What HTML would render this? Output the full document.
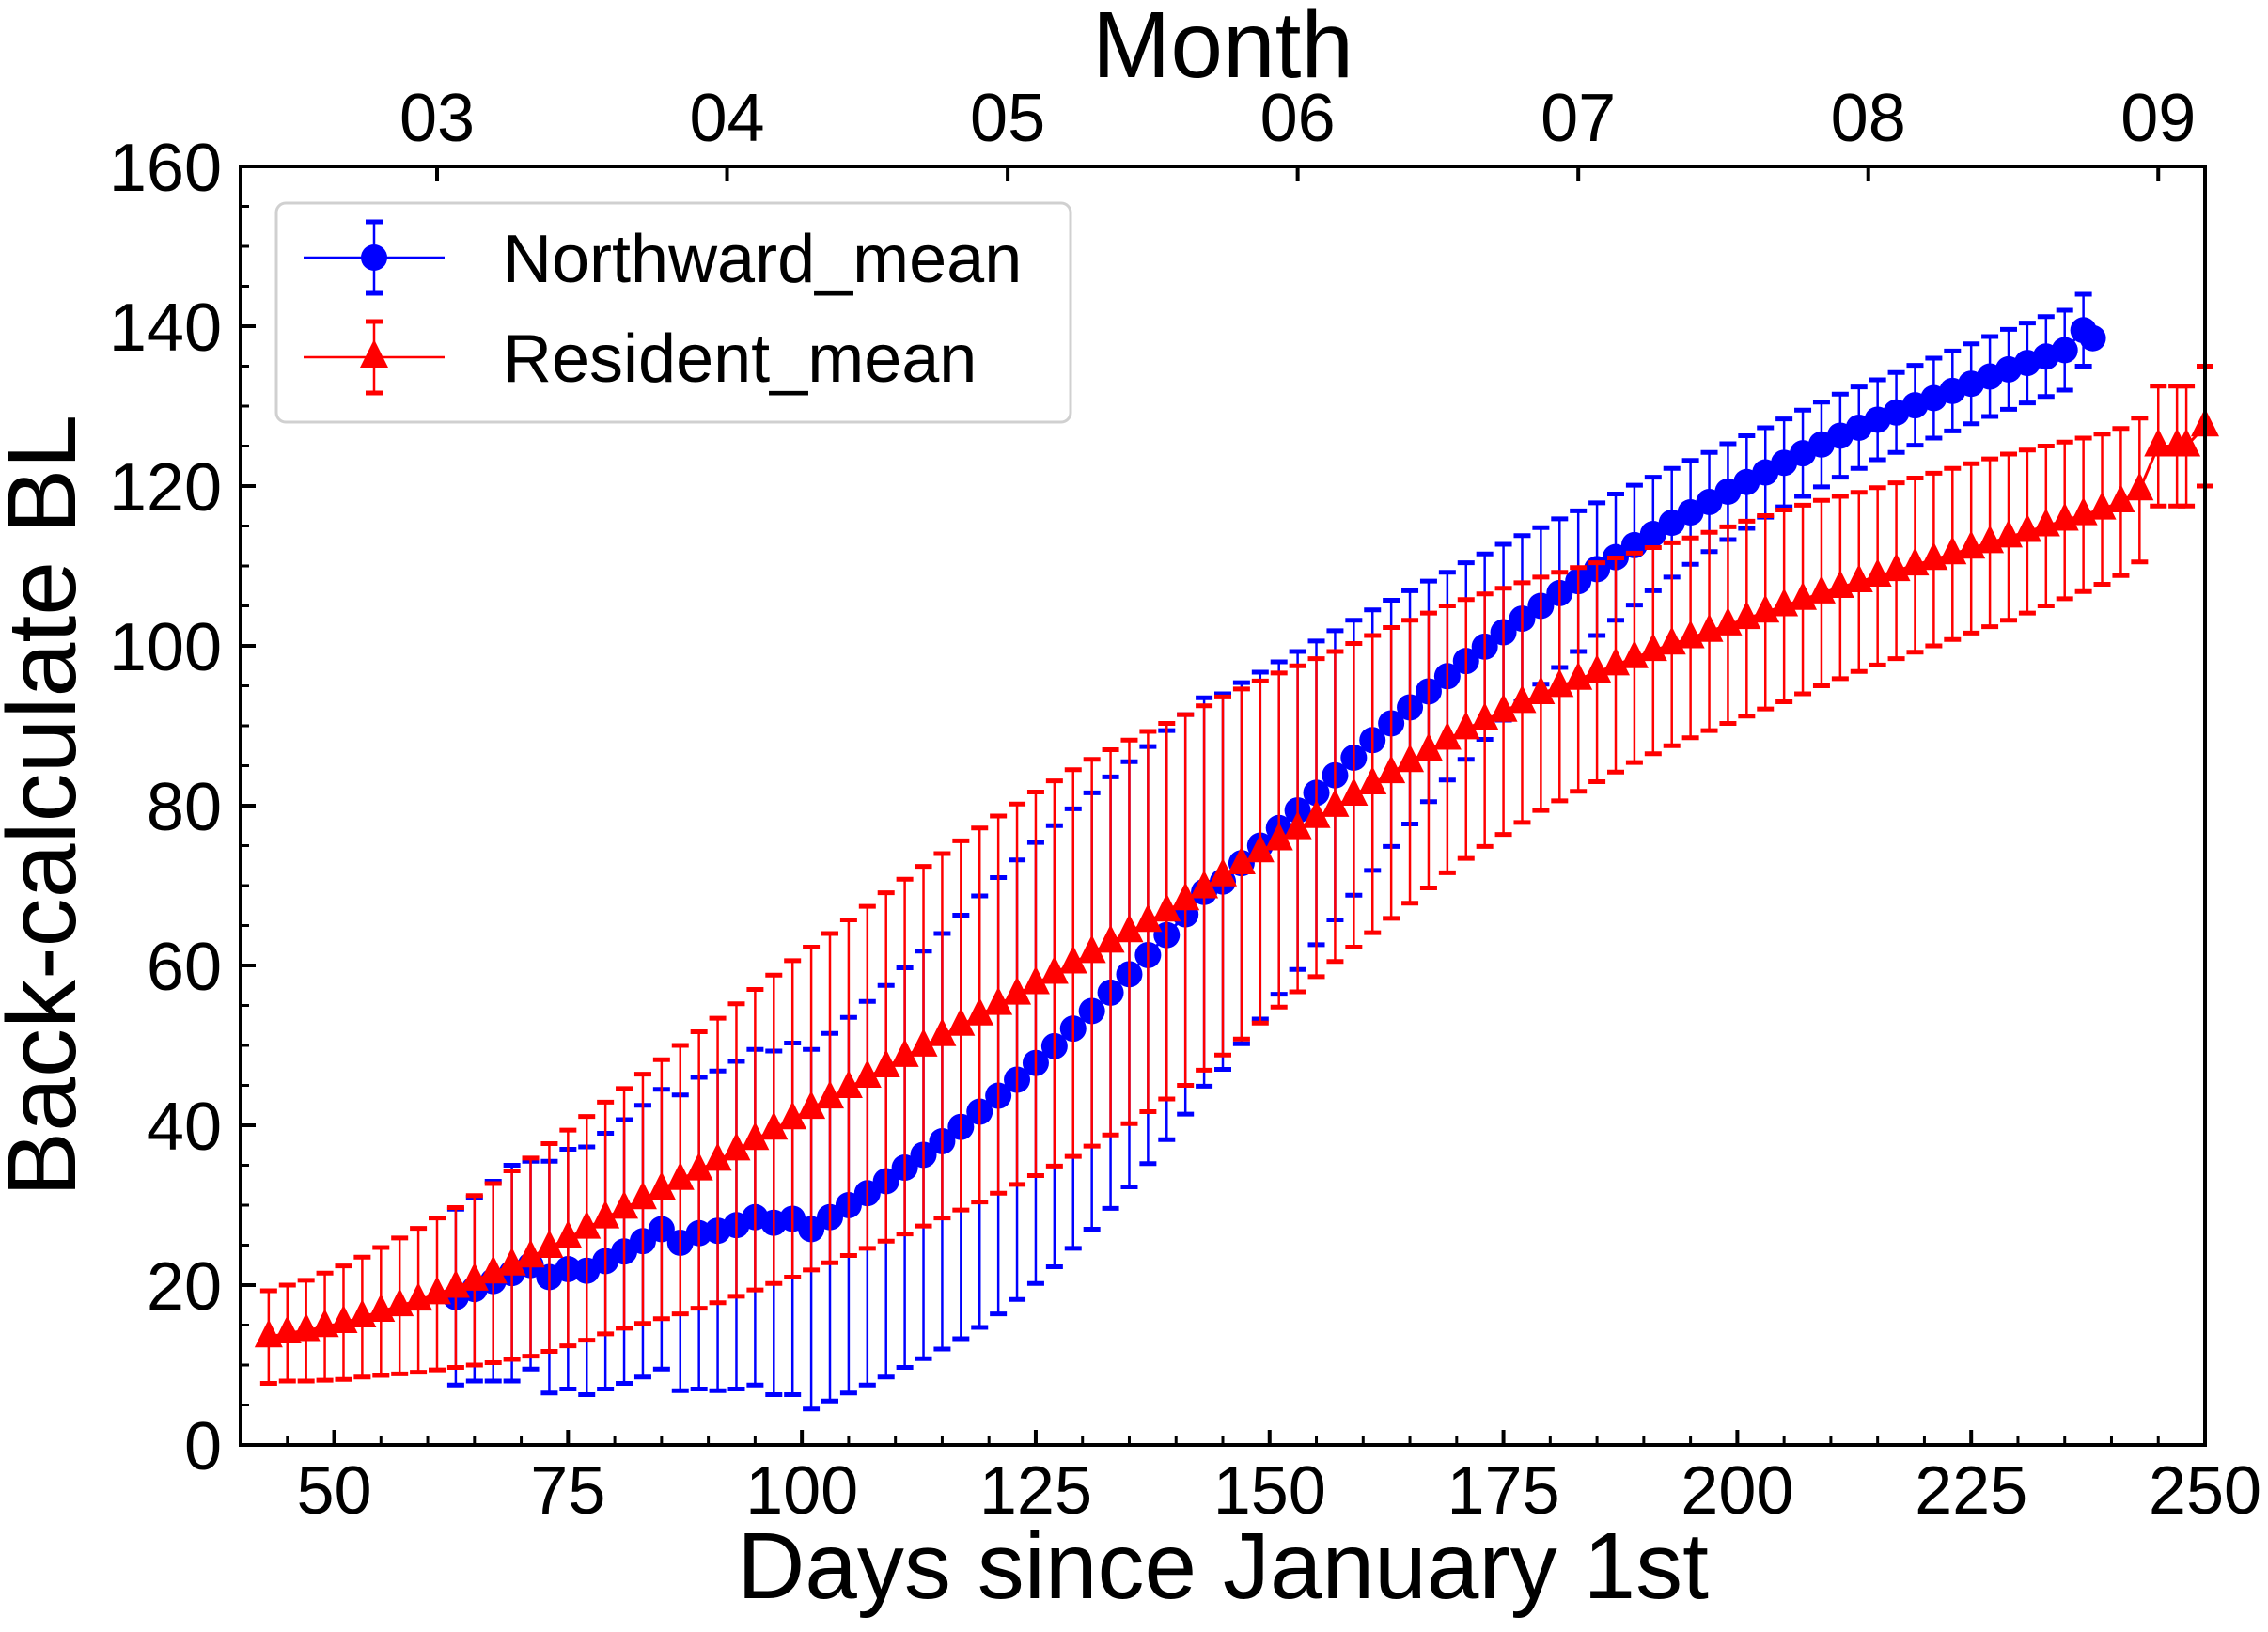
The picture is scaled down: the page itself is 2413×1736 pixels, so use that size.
<!DOCTYPE html>
<html><head><meta charset="utf-8">
<style>
html,body{margin:0;padding:0;background:#fff;}
svg{display:block;font-family:"Liberation Sans",Arial,sans-serif;}
</style></head>
<body>
<svg id="chart" width="2413" height="1736" viewBox="0 0 2413 1736" xmlns="http://www.w3.org/2000/svg">
<rect x="0" y="0" width="2413" height="1736" fill="#fff"/>
<g id="series"></g>
<g id="axes"></g>
</svg>
<script>
const xTicks = [50, 75, 100, 125, 150, 175, 200, 225, 250];
const yTicks = [0, 20, 40, 60, 80, 100, 120, 140, 160];
const monthLabels = ["03", "04", "05", "06", "07", "08", "09"];
const monthDays = [61, 92, 122, 153, 183, 214, 245];

const resDays = [43,45,47,49,51,53,55,57,59,61,63,65,67,69,71,73,75,77,79,81,83,85,87,89,91,93,95,97,99,101,103,105,107,109,111,113,115,117,119,121,123,125,127,129,131,133,135,137,139,141,143,145,147,149,151,153,155,157,159,161,163,165,167,169,171,173,175,177,179,181,183,185,187,189,191,193,195,197,199,201,203,205,207,209,211,213,215,217,219,221,223,225,227,229,231,233,235,237,239,241,243,245,247,248,250];
const resMean = [13.5,14,14.3,14.8,15.3,16,16.7,17.4,18.1,18.9,19.7,20.6,21.5,22.5,23.5,24.7,25.9,27.1,28.4,29.6,30.8,32,33.2,34.4,35.6,36.9,38.2,39.5,40.8,42.1,43.4,44.7,46,47.3,48.6,49.9,51.2,52.5,53.8,55.1,56.4,57.7,59,60.3,61.6,62.9,64.2,65.5,66.8,68.2,69.7,71.2,72.7,74.2,75.7,77.1,78.5,79.9,81.3,82.7,84.1,85.5,86.9,88.3,89.6,90.7,91.8,92.9,94,94.9,95.8,96.7,97.6,98.5,99.4,100.2,101,101.8,102.6,103.4,104.2,105,105.8,106.6,107.3,108,108.7,109.4,110.1,110.8,111.5,112.2,112.9,113.6,114.3,115,115.7,116.4,117.1,118,119.5,125,125,125,127.5];
const resSd = [5.8,6,6.3,6.7,7.1,7.5,8,8.5,9,9.5,10,10.6,11.2,11.8,12.4,13,13.5,14,14.5,15,15.6,16.2,16.8,17.3,17.8,18.3,18.8,19.3,19.8,20.2,20.6,21,21.4,21.8,22.2,22.5,22.8,23.1,23.4,23.6,23.8,24,24.1,24.2,24.2,24.1,24,23.8,23.5,23.2,22.8,22.4,21.9,21.4,20.9,20.4,19.9,19.4,19,18.6,18.2,17.7,17.2,16.7,16.2,15.8,15.4,15,14.6,14.3,14,13.7,13.4,13.1,12.9,12.7,12.5,12.4,12.3,12.2,12.1,12,11.8,11.6,11.4,11.2,11.1,11,10.9,10.8,10.7,10.6,10.5,10.4,10.2,10,9.8,9.6,9.4,9.2,9,7.5,7.5,7.5,7.5];

const norDays = [63,65,67,69,71,73,75,77,79,81,83,85,87,89,91,93,95,97,99,101,103,105,107,109,111,113,115,117,119,121,123,125,127,129,131,133,135,137,139,141,143,145,147,149,151,153,155,157,159,161,163,165,167,169,171,173,175,177,179,181,183,185,187,189,191,193,195,197,199,201,203,205,207,209,211,213,215,217,219,221,223,225,227,229,231,233,235,237,238];
const norMean = [18.5,19.5,20.5,21.5,22.5,21,22,21.8,23,24.2,25.5,27,25.3,26.5,26.8,27.5,28.5,27.8,28.3,27,28.5,30,31.5,33,34.7,36.3,38,39.8,41.7,43.7,45.7,47.8,49.9,52.1,54.3,56.6,58.9,61.3,63.8,66.4,69.2,70.5,72.8,75,77.2,79.4,81.6,83.8,86,88.2,90.3,92.3,94.3,96.2,98.1,99.9,101.7,103.4,105,106.6,108.1,109.6,111.1,112.6,114,115.4,116.7,118,119.3,120.5,121.7,122.9,124.1,125.2,126.3,127.3,128.3,129.2,130.1,131,131.9,132.8,133.7,134.6,135.4,136.2,137,139.5,138.5];
const norSd = [11,11.5,12.5,13.5,13,14.5,15,15.5,16,16.5,17,17.5,18.5,19.5,20,20.5,21,21.5,22,22.5,23,23.5,24,24.5,25,25.5,26,26.5,27,27.3,27.5,27.6,27.6,27.5,27.3,27,26.6,26.1,25.6,25,24.3,23.5,22.6,21.7,20.8,19.9,19,18.1,17.2,16.3,15.4,14.6,13.8,13,12.3,11.6,11,10.4,9.8,9.3,8.8,8.3,7.9,7.5,7.1,6.8,6.5,6.2,6,5.8,5.6,5.5,5.4,5.3,5.2,5.1,5,5,5,5,5,5,5,5,5,5,5,4.5,0];

const NS = "http://www.w3.org/2000/svg";
const L = 256, R = 2346, T = 177, B = 1537;
const X0 = 40, X1 = 250, Y0 = 0, Y1 = 160;
function xs(d){ return L + (d - X0) / (X1 - X0) * (R - L); }
function ys(v){ return B - (v - Y0) / (Y1 - Y0) * (B - T); }
function mk(tag, attrs, parent){
  const e = document.createElementNS(NS, tag);
  for (const k in attrs) e.setAttribute(k, attrs[k]);
  parent.appendChild(e);
  return e;
}
const series = document.getElementById('series');
const axes = document.getElementById('axes');

function drawSeries(days, mean, sd, color, shape, name){
  const g = mk('g', {}, series);
  
  
  let d = '';
  days.forEach((x, i) => { d += (i ? 'L' : 'M') + xs(x).toFixed(1) + ' ' + ys(mean[i]).toFixed(1); });
  const ln = mk('path', {d: d, fill: 'none', stroke: color, 'stroke-width': 3}, g);
  
  
  days.forEach((x, i) => {
    if (sd[i] <= 0) return;
    const cx = xs(x), yt = ys(mean[i] + sd[i]), yb = ys(mean[i] - sd[i]);
    const eb = mk('path', {d: `M${cx} ${yt}L${cx} ${yb}`, stroke: color, 'stroke-width': 2.5, fill: 'none'}, g);
    
    
    const cp = mk('path', {d: `M${cx-9} ${yt}L${cx+9} ${yt}M${cx-9} ${yb}L${cx+9} ${yb}`, stroke: color, 'stroke-width': 5, fill: 'none'}, g);
    
    
  });
  days.forEach((x, i) => {
    const cx = xs(x), cy = ys(mean[i]);
    let m;
    if (shape === 'circle') {
      m = mk('circle', {cx: cx, cy: cy, r: 14, fill: color}, g);
    } else {
      m = mk('path', {d: `M${cx} ${cy-19}L${cx+15} ${cy+11}L${cx-15} ${cy+11}Z`, fill: color}, g);
    }
    
    
  });
}
drawSeries(norDays, norMean, norSd, '#0000ff', 'circle', 'northward-mean');
drawSeries(resDays, resMean, resSd, '#ff0000', 'triangle', 'resident-mean');

const frame = mk('rect', {x: L, y: T, width: R - L, height: B - T, fill: 'none', stroke: '#000', 'stroke-width': 4}, axes);



for (let d = 45; d <= 250; d += 5) {
  const major = xTicks.includes(d);
  const t = mk('line', {x1: xs(d), x2: xs(d), y1: B, y2: B - (major ? 16 : 9), stroke: '#000', 'stroke-width': major ? 4 : 3}, axes);
  
  
}
xTicks.forEach(v => {
  const t = mk('text', {x: xs(v), y: 1610, 'font-size': 72, 'text-anchor': 'middle', fill: '#000'}, axes);
  t.textContent = v;
  
  
});
for (let v = 0; v <= 160; v += 5) {
  const major = yTicks.includes(v);
  const t = mk('line', {x1: L, x2: L + (major ? 16 : 9), y1: ys(v), y2: ys(v), stroke: '#000', 'stroke-width': major ? 4 : 3}, axes);
  
  
}
yTicks.forEach(v => {
  const t = mk('text', {x: 236, y: ys(v) + 26, 'font-size': 72, 'text-anchor': 'end', fill: '#000'}, axes);
  t.textContent = v;
  
  
});
monthDays.forEach((d, i) => {
  const t = mk('line', {x1: xs(d), x2: xs(d), y1: T, y2: T + 16, stroke: '#000', 'stroke-width': 4}, axes);
  
  
  const lb = mk('text', {x: xs(d), y: 150, 'font-size': 72, 'text-anchor': 'middle', fill: '#000'}, axes);
  lb.textContent = monthLabels[i];
  
  
});
let tt = mk('text', {x: 1301, y: 82, 'font-size': 100, 'text-anchor': 'middle', fill: '#000'}, axes);
tt.textContent = 'Month';


tt = mk('text', {x: 1301, y: 1700, 'font-size': 100, 'text-anchor': 'middle', fill: '#000'}, axes);
tt.textContent = 'Days since January 1st';


tt = mk('text', {x: 0, y: 0, 'font-size': 104, 'text-anchor': 'middle', fill: '#000', transform: 'translate(80,857) rotate(-90)'}, axes);
tt.textContent = 'Back-calculate BL';



const lg = mk('g', {}, axes);


const box = mk('rect', {x: 294, y: 216, width: 845, height: 233, rx: 10, fill: '#fff', 'fill-opacity': 0.85, stroke: '#d0d0d0', 'stroke-width': 3}, lg);


const entries = [['Northward_mean', '#0000ff', 'circle', 274], ['Resident_mean', '#ff0000', 'triangle', 380]];
entries.forEach(([label, color, shape, y]) => {
  const e = mk('g', {}, lg);
  
  
  const cx = 398;
  mk('path', {d: `M323 ${y}L473 ${y}M${cx} ${y-38}L${cx} ${y+38}`, stroke: color, 'stroke-width': 2.5, fill: 'none'}, e);
  mk('path', {d: `M${cx-9} ${y-38}L${cx+9} ${y-38}M${cx-9} ${y+38}L${cx+9} ${y+38}`, stroke: color, 'stroke-width': 5, fill: 'none'}, e);
  if (shape === 'circle') mk('circle', {cx: cx, cy: y, r: 14, fill: color}, e);
  else mk('path', {d: `M${cx} ${y-19}L${cx+15} ${y+11}L${cx-15} ${y+11}Z`, fill: color}, e);
  const t = mk('text', {x: 535, y: y + 26, 'font-size': 72, fill: '#000'}, e);
  t.textContent = label;
});
</script>
</body></html>
